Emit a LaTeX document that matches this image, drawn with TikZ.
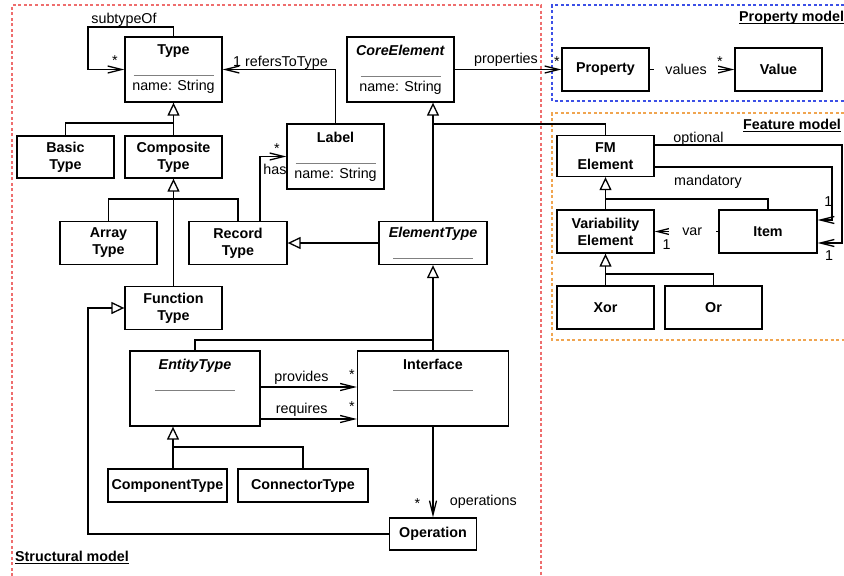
\documentclass[tikz,border=0pt]{standalone}
\usepackage{fontspec}
\setmainfont{Liberation Sans}
\usetikzlibrary{arrows.meta,calc}
\newcommand{\umlfont}{\fontsize{14.3}{17}\selectfont}
\newcommand{\sepline}{{\color{gray}\rule[-4pt]{80pt}{0.6pt}}}
\newcommand{\ul}[1]{\underline{\smash{#1}}}
\definecolor{redframe}{RGB}{238,110,110}
\definecolor{blueframe}{RGB}{60,80,230}
\definecolor{orangeframe}{RGB}{240,165,80}
\tikzstyle{cls}=[draw,line width=1.3pt,align=center,inner sep=0pt]
\tikzstyle{clsb}=[cls,font=\umlfont\bfseries]
\tikzstyle{gen}=[line width=1.3pt,-{Triangle[open,length=13pt,width=12pt]}]
\tikzstyle{assoc}=[line width=1.3pt,-{Straight Barb[length=14pt,width=7pt]}]
\tikzstyle{plain}=[line width=1.3pt]
\tikzstyle{lbl}=[inner sep=0pt,anchor=base]
\tikzstyle{onlbl}=[fill=white,inner ysep=1pt]
\tikzstyle{title}=[inner sep=0pt,anchor=base west,font=\umlfont\bfseries]
\tikzstyle{frame}=[line width=1.3pt,dash pattern=on 3pt off 2.5pt]

\begin{document}
\begin{tikzpicture}[x=1pt,y=-1pt,font=\umlfont]
  \useasboundingbox (0,0) rectangle (844,576);

  % the three model areas
  \draw[frame,redframe] (12,576) -- (12,5) -- (541,5) -- (541,576);
  \draw[frame,blueframe] (844,5) -- (552,5) -- (552,101) -- (844,101);
  \draw[frame,orangeframe] (844,113) -- (552,113) -- (552,340) -- (844,340);
  \node[title] (tstruct) at (15,561.5) {\ul{Structural model}};
  \node[title] (tprop) at (739,21.7) {\ul{Property model}};
  \node[title] (tfeat) at (743,129.3) {\ul{Feature model}};

  % structural model
  \node[cls,minimum width=97pt,minimum height=65pt] (type) at (173.5,69.5) {\textbf{Type}\\\sepline\\[2pt]name: String};
  \node[clsb,minimum width=97pt,minimum height=42pt] (basic) at (65.5,157) {Basic\\Type};
  \node[clsb,minimum width=97pt,minimum height=42pt] (composite) at (173.5,157) {Composite\\Type};
  \node[clsb,minimum width=97pt,minimum height=43pt] (array) at (108.5,243) {Array\\Type};
  \node[clsb,minimum width=98pt,minimum height=43pt] (record) at (238,243) {Record\\Type};
  \node[clsb,minimum width=97pt,minimum height=43pt] (function) at (173.5,308) {Function\\Type};
  \node[cls,minimum width=97pt,minimum height=65pt] (label) at (335.5,156.5) {\textbf{Label}\\\sepline\\[2pt]name: String};
  \node[cls,minimum width=107pt,minimum height=65pt] (core) at (400.5,69.5) {\textbf{\textit{CoreElement}}\\\sepline\\[2pt]name: String};
  \node[cls,minimum width=108pt,minimum height=43pt] (elemtype) at (433,243) {\textbf{\textit{ElementType}}\\\sepline};
  \node[cls,minimum width=130pt,minimum height=75pt] (entity) at (195,388.5) {\textbf{\textit{EntityType}}\\\sepline\\[15pt]\mbox{}};
  \node[cls,minimum width=151pt,minimum height=75pt] (interface) at (433,388.5) {\textbf{Interface}\\\sepline\\[15pt]\mbox{}};
  \node[clsb,minimum width=119pt,minimum height=33pt] (comp) at (167.5,485.5) {ComponentType};
  \node[clsb,minimum width=130pt,minimum height=33pt] (conn) at (303,485.5) {ConnectorType};
  \node[clsb,minimum width=87pt,minimum height=32pt] (operation) at (433,534) {Operation};

  % property model
  \node[clsb,minimum width=87pt,minimum height=43pt] (property) at (605.5,69.5) {Property};
  \node[clsb,minimum width=87pt,minimum height=43pt] (value) at (778.5,69.5) {Value};

  % feature model
  \node[clsb,minimum width=97pt,minimum height=41pt] (fm) at (605.5,156) {FM\\Element};
  \node[clsb,minimum width=97pt,minimum height=43pt] (varel) at (605.5,231.5) {Variability\\Element};
  \node[clsb,minimum width=98pt,minimum height=43pt] (item) at (768,231.5) {Item};
  \node[clsb,minimum width=97pt,minimum height=43pt] (xorel) at (605.5,307.5) {Xor};
  \node[clsb,minimum width=97pt,minimum height=43pt] (orel) at (713.5,307.5) {Or};

  % associations
  \coordinate (cloop) at (88,27);
  \draw[assoc] (type.north) |- (cloop) |- (type.west);
  \node[lbl] (lsub) at (124,23.5) {subtypeOf};
  \node[lbl] (msub) at (115,65) {*};

  \draw[assoc] (label.north) |- (type.east);
  \node[lbl,anchor=base west] (lref) at (233,66) {1 refersToType};

  \draw[assoc] ([xshift=22pt]record.north) |- (label.west);
  \node[lbl] (lhas) at (275,174) {has};
  \node[lbl] (mhas) at (277,153.5) {*};

  \draw[assoc] ([yshift=1.5pt]entity.east) -- ([yshift=1.5pt]interface.west);
  \node[lbl] (lprov) at (301.5,381.7) {provides};
  \node[lbl] (mprov) at (352,379.5) {*};
  \draw[assoc] ([yshift=-30.5pt]entity.east) -- ([yshift=-30.5pt]interface.west);
  \node[lbl] (lreq) at (301.7,413.3) {requires};
  \node[lbl] (mreq) at (352,411) {*};

  \draw[assoc] (interface.south) -- (operation.north);
  \node[lbl] (lops) at (483.3,505) {operations};
  \node[lbl] (mops) at (417.3,508.5) {*};

  \draw[assoc] (core.east) -- (property.west);
  \node[lbl] (lprops) at (506,63.5) {properties};
  \node[lbl] (mprops) at (557,66) {*};

  \draw[assoc] (property.east) -- node[onlbl,pos=0.43,inner xsep=11pt] (lval) {values} (value.west);
  \node[lbl] (mval) at (720,66) {*};

  % generalizations
  \coordinate (jtype) at (173.5,123);
  \draw[plain] (basic.north) |- (jtype);
  \draw[gen] (composite.north) -- (type.south);
  \coordinate (jcomp) at (173.5,199);
  \draw[plain] (array.north) |- (jcomp) -| (record.north);
  \draw[gen] (function.north) -- (composite.south);
  \draw[gen] (elemtype.west) -- (record.east);
  \draw[gen] (elemtype.north) -- (elemtype.north |- core.south);
  \coordinate (jcore) at (433,124);
  \draw[plain] (jcore) -| (fm.north);
  \draw[gen] (interface.north) -- (elemtype.south);
  \coordinate (jelem) at (433,340);
  \draw[plain] (entity.north) |- (jelem);
  \coordinate (jent) at (173,447);
  \draw[gen] (jent |- comp.north) -- (jent |- entity.south);
  \draw[plain] (jent) -| (conn.north);
  \coordinate (jfun) at (88,534);
  \draw[gen] (operation.west) -- (jfun) |- (function.west);

  % feature model links
  \draw[gen] (varel.north) -- (fm.south);
  \coordinate (jfm) at (605.5,199);
  \draw[plain] (jfm) -| (item.north);
  \draw[gen] (xorel.north) -- (varel.south);
  \coordinate (jvar) at (605.5,274);
  \draw[plain] (jvar) -| (orel.north);

  \draw[assoc] (item.west) -- node[onlbl,pos=0.41,inner xsep=13.5pt] (lvar) {var} (varel.east);
  \node[lbl] (mvar) at (666.7,249.3) {1};

  \coordinate (jman) at (832,167);
  \draw[assoc] ([yshift=-11pt]fm.east) -- (jman) |- ([yshift=11.5pt]item.east);
  \node[lbl] (lman) at (708,185) {mandatory};
  \node[lbl] (mman) at (828.3,206.7) {1};
  \coordinate (jopt) at (842,145);
  \draw[assoc] ([yshift=11pt]fm.east) -- (jopt) |- ([yshift=-11.5pt]item.east);
  \node[lbl] (lopt) at (698.5,142) {optional};
  \node[lbl] (mopt) at (829,260) {1};
\end{tikzpicture}
\end{document}
